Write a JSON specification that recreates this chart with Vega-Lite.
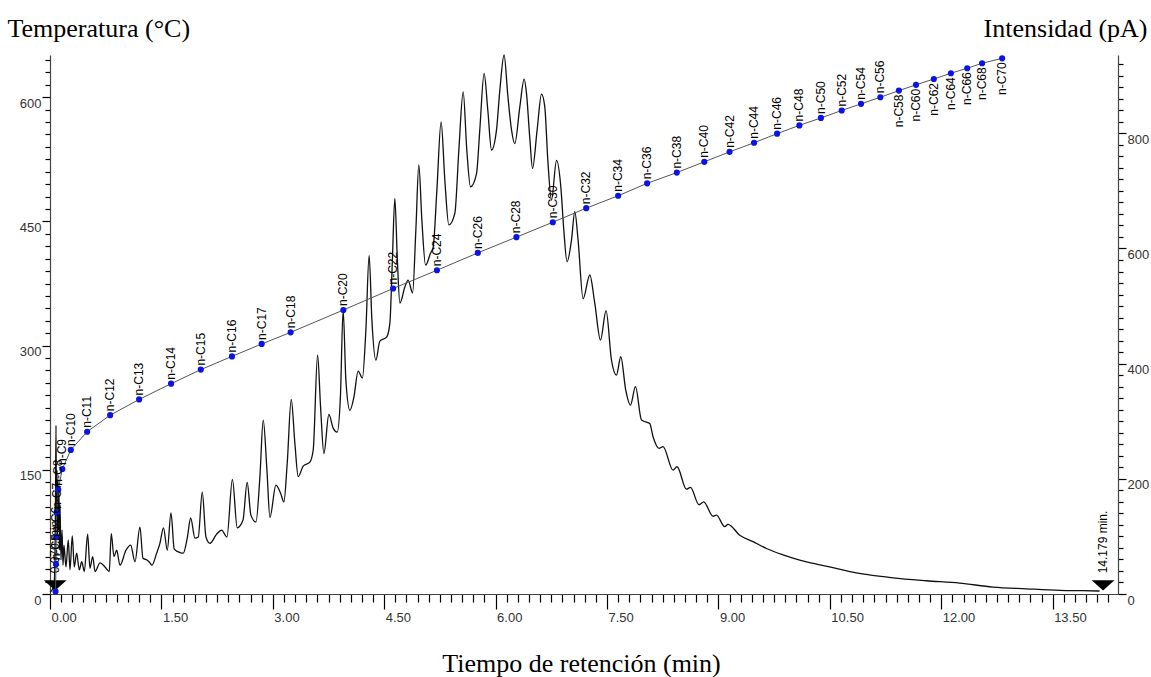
{
  "$schema": "https://vega.github.io/schema/vega-lite/v6.json",
  "width": 1068,
  "height": 539,
  "autosize": "none",
  "padding": {"left": 50, "top": 55, "right": 33, "bottom": 83},
  "background": "white",
  "config": {
    "view": {"stroke": null},
    "axis": {
      "grid": false,
      "labelFont": "Liberation Sans",
      "labelFontSize": 13,
      "labelColor": "#333333",
      "domainColor": "#444444",
      "domainWidth": 1.2,
      "tickColor": "#000000",
      "tickWidth": 1.2,
      "tickRound": true,
      "titleFont": "Liberation Serif",
      "titleFontSize": 26,
      "titleFontWeight": "normal",
      "titleColor": "#000000"
    }
  },
  "datasets": {
    "chrom": [
      {"t": 0, "pA": 3}, {"t": 0.027, "pA": 6.9}, {"t": 0.054, "pA": 15.6}, {"t": 0.067, "pA": 59}, {"t": 0.074, "pA": 163}, {"t": 0.081, "pA": 293}, {"t": 0.087, "pA": 128}, {"t": 0.094, "pA": 215}, {"t": 0.101, "pA": 94}, {"t": 0.108, "pA": 198}, {"t": 0.114, "pA": 111}, {"t": 0.121, "pA": 181}, {"t": 0.128, "pA": 76}, {"t": 0.135, "pA": 155}, {"t": 0.148, "pA": 59}, {"t": 0.162, "pA": 111}, {"t": 0.175, "pA": 50}, {"t": 0.188, "pA": 85}, {"t": 0.215, "pA": 47}, {"t": 0.246, "pA": 94}, {"t": 0.269, "pA": 42}, {"t": 0.3, "pA": 101}, {"t": 0.327, "pA": 47}, {"t": 0.359, "pA": 71}, {"t": 0.394, "pA": 42}, {"t": 0.427, "pA": 56}, {"t": 0.462, "pA": 39}, {"t": 0.507, "pA": 104}, {"t": 0.538, "pA": 45}, {"t": 0.575, "pA": 65}, {"t": 0.606, "pA": 39}, {"t": 0.673, "pA": 54}, {"t": 0.74, "pA": 47}, {"t": 0.798, "pA": 39}, {"t": 0.825, "pA": 105}, {"t": 0.861, "pA": 65}, {"t": 0.898, "pA": 76}, {"t": 0.942, "pA": 50}, {"t": 1.023, "pA": 76}, {"t": 1.086, "pA": 85}, {"t": 1.144, "pA": 56}, {"t": 1.211, "pA": 116}, {"t": 1.252, "pA": 62}, {"t": 1.306, "pA": 59}, {"t": 1.346, "pA": 54}, {"t": 1.373, "pA": 50}, {"t": 1.436, "pA": 71}, {"t": 1.48, "pA": 88}, {"t": 1.528, "pA": 115}, {"t": 1.579, "pA": 76}, {"t": 1.629, "pA": 141}, {"t": 1.673, "pA": 78}, {"t": 1.75, "pA": 72}, {"t": 1.794, "pA": 71}, {"t": 1.848, "pA": 97}, {"t": 1.894, "pA": 132}, {"t": 1.952, "pA": 97}, {"t": 1.996, "pA": 99}, {"t": 2.05, "pA": 177}, {"t": 2.1, "pA": 99}, {"t": 2.153, "pA": 88}, {"t": 2.244, "pA": 104}, {"t": 2.311, "pA": 111}, {"t": 2.382, "pA": 99}, {"t": 2.456, "pA": 199}, {"t": 2.521, "pA": 115}, {"t": 2.598, "pA": 128}, {"t": 2.655, "pA": 194}, {"t": 2.705, "pA": 137}, {"t": 2.773, "pA": 125}, {"t": 2.826, "pA": 203}, {"t": 2.871, "pA": 302}, {"t": 2.921, "pA": 215}, {"t": 2.961, "pA": 133}, {"t": 3.042, "pA": 189}, {"t": 3.105, "pA": 175}, {"t": 3.149, "pA": 160}, {"t": 3.194, "pA": 227}, {"t": 3.248, "pA": 338}, {"t": 3.297, "pA": 262}, {"t": 3.342, "pA": 204}, {"t": 3.409, "pA": 222}, {"t": 3.499, "pA": 229}, {"t": 3.544, "pA": 250}, {"t": 3.603, "pA": 415}, {"t": 3.643, "pA": 325}, {"t": 3.688, "pA": 244}, {"t": 3.755, "pA": 312}, {"t": 3.813, "pA": 288}, {"t": 3.867, "pA": 281}, {"t": 3.91, "pA": 342}, {"t": 3.947, "pA": 493}, {"t": 3.984, "pA": 371}, {"t": 4.038, "pA": 319}, {"t": 4.092, "pA": 342}, {"t": 4.149, "pA": 387}, {"t": 4.206, "pA": 375}, {"t": 4.253, "pA": 458}, {"t": 4.297, "pA": 588}, {"t": 4.334, "pA": 476}, {"t": 4.388, "pA": 406}, {"t": 4.441, "pA": 439}, {"t": 4.532, "pA": 446}, {"t": 4.576, "pA": 470}, {"t": 4.61, "pA": 580}, {"t": 4.643, "pA": 687}, {"t": 4.677, "pA": 580}, {"t": 4.711, "pA": 505}, {"t": 4.778, "pA": 533}, {"t": 4.822, "pA": 545}, {"t": 4.882, "pA": 523}, {"t": 4.926, "pA": 632}, {"t": 4.966, "pA": 745}, {"t": 5.007, "pA": 649}, {"t": 5.057, "pA": 571}, {"t": 5.124, "pA": 592}, {"t": 5.159, "pA": 602}, {"t": 5.209, "pA": 701}, {"t": 5.266, "pA": 820}, {"t": 5.316, "pA": 719}, {"t": 5.37, "pA": 641}, {"t": 5.451, "pA": 661}, {"t": 5.505, "pA": 771}, {"t": 5.563, "pA": 872}, {"t": 5.612, "pA": 771}, {"t": 5.662, "pA": 707}, {"t": 5.743, "pA": 730}, {"t": 5.787, "pA": 806}, {"t": 5.845, "pA": 904}, {"t": 5.895, "pA": 840}, {"t": 5.945, "pA": 771}, {"t": 6.012, "pA": 806}, {"t": 6.057, "pA": 875}, {"t": 6.114, "pA": 936}, {"t": 6.164, "pA": 866}, {"t": 6.214, "pA": 806}, {"t": 6.258, "pA": 782}, {"t": 6.326, "pA": 846}, {"t": 6.384, "pA": 894}, {"t": 6.416, "pA": 869}, {"t": 6.46, "pA": 792}, {"t": 6.497, "pA": 739}, {"t": 6.559, "pA": 806}, {"t": 6.618, "pA": 868}, {"t": 6.662, "pA": 846}, {"t": 6.703, "pA": 753}, {"t": 6.752, "pA": 684}, {"t": 6.82, "pA": 753}, {"t": 6.878, "pA": 707}, {"t": 6.918, "pA": 632}, {"t": 6.962, "pA": 577}, {"t": 7.022, "pA": 615}, {"t": 7.066, "pA": 664}, {"t": 7.11, "pA": 615}, {"t": 7.178, "pA": 513}, {"t": 7.268, "pA": 554}, {"t": 7.335, "pA": 505}, {"t": 7.412, "pA": 441}, {"t": 7.487, "pA": 492}, {"t": 7.56, "pA": 406}, {"t": 7.627, "pA": 380}, {"t": 7.685, "pA": 412}, {"t": 7.752, "pA": 354}, {"t": 7.816, "pA": 328}, {"t": 7.883, "pA": 360}, {"t": 7.964, "pA": 302}, {"t": 8.075, "pA": 296}, {"t": 8.12, "pA": 273}, {"t": 8.2, "pA": 253}, {"t": 8.254, "pA": 256}, {"t": 8.389, "pA": 215}, {"t": 8.443, "pA": 221}, {"t": 8.569, "pA": 182}, {"t": 8.623, "pA": 185}, {"t": 8.739, "pA": 155}, {"t": 8.802, "pA": 160}, {"t": 8.927, "pA": 135}, {"t": 8.973, "pA": 137}, {"t": 9.085, "pA": 117}, {"t": 9.129, "pA": 121}, {"t": 9.287, "pA": 102}, {"t": 9.466, "pA": 91}, {"t": 9.646, "pA": 79}, {"t": 9.869, "pA": 68}, {"t": 10.094, "pA": 59}, {"t": 10.319, "pA": 52}, {"t": 10.542, "pA": 46}, {"t": 10.767, "pA": 39}, {"t": 10.992, "pA": 34}, {"t": 11.35, "pA": 28}, {"t": 11.799, "pA": 23}, {"t": 12.248, "pA": 19}, {"t": 12.696, "pA": 12}, {"t": 13.145, "pA": 9}, {"t": 13.594, "pA": 6.4}, {"t": 13.907, "pA": 5.7}, {"t": 14.132, "pA": 5.2}
    ],
    "temp": [
      {"t": 0.075, "T": 3, "label": ""}, {"t": 0.08, "T": 36, "label": "n-C5"}, {"t": 0.085, "T": 69, "label": "n-C6"}, {"t": 0.09, "T": 98, "label": "n-C7"}, {"t": 0.11, "T": 126, "label": "n-C8"}, {"t": 0.166, "T": 151, "label": "n-C9"}, {"t": 0.28, "T": 174, "label": "n-C10"}, {"t": 0.5, "T": 196, "label": "n-C11"}, {"t": 0.81, "T": 216, "label": "n-C12"}, {"t": 1.2, "T": 235, "label": "n-C13"}, {"t": 1.63, "T": 254, "label": "n-C14"}, {"t": 2.03, "T": 271, "label": "n-C15"}, {"t": 2.45, "T": 287, "label": "n-C16"}, {"t": 2.85, "T": 302, "label": "n-C17"}, {"t": 3.24, "T": 316, "label": "n-C18"}, {"t": 3.95, "T": 343, "label": "n-C20"}, {"t": 4.62, "T": 369, "label": "n-C22"}, {"t": 5.21, "T": 391, "label": "n-C24"}, {"t": 5.76, "T": 412, "label": "n-C26"}, {"t": 6.28, "T": 431, "label": "n-C28"}, {"t": 6.77, "T": 449, "label": "n-C30"}, {"t": 7.22, "T": 466, "label": "n-C32"}, {"t": 7.65, "T": 481, "label": "n-C34"}, {"t": 8.04, "T": 496, "label": "n-C36"}, {"t": 8.44, "T": 509, "label": "n-C38"}, {"t": 8.81, "T": 522, "label": "n-C40"}, {"t": 9.15, "T": 534, "label": "n-C42"}, {"t": 9.48, "T": 545, "label": "n-C44"}, {"t": 9.79, "T": 556, "label": "n-C46"}, {"t": 10.09, "T": 566, "label": "n-C48"}, {"t": 10.38, "T": 575, "label": "n-C50"}, {"t": 10.66, "T": 584, "label": "n-C52"}, {"t": 10.92, "T": 592, "label": "n-C54"}, {"t": 11.18, "T": 600, "label": "n-C56"}, {"t": 11.43, "T": 608, "label": "n-C58"}, {"t": 11.66, "T": 615, "label": "n-C60"}, {"t": 11.9, "T": 622, "label": "n-C62"}, {"t": 12.13, "T": 629, "label": "n-C64"}, {"t": 12.35, "T": 635, "label": "n-C66"}, {"t": 12.55, "T": 641, "label": "n-C68"}, {"t": 12.82, "T": 647, "label": "n-C70"}
    ],
    "markers": [
      {"t": 0.07, "pA": 15, "label": "0.070 min."}, {"t": 14.179, "pA": 15, "label": "14.179 min."}
    ]
  },
  "encoding": {
    "x": {
      "field": "t", "type": "quantitative",
      "scale": {"domain": [0, 14.38], "nice": false, "zero": false},
      "axis": {
        "orient": "bottom",
        "title": "Tiempo de retención (min)",
        "titleX": 531, "titleY": 69, "titleBaseline": "middle", "titleAnchor": null,
        "values": [0, 0.15, 0.3, 0.45, 0.6, 0.75, 0.9, 1.05, 1.2, 1.35, 1.5, 1.65, 1.8, 1.95, 2.1, 2.25, 2.4, 2.55, 2.7, 2.85, 3, 3.15, 3.3, 3.45, 3.6, 3.75, 3.9, 4.05, 4.2, 4.35, 4.5, 4.65, 4.8, 4.95, 5.1, 5.25, 5.4, 5.55, 5.7, 5.85, 6, 6.15, 6.3, 6.45, 6.6, 6.75, 6.9, 7.05, 7.2, 7.35, 7.5, 7.65, 7.8, 7.95, 8.1, 8.25, 8.4, 8.55, 8.7, 8.85, 9, 9.15, 9.3, 9.45, 9.6, 9.75, 9.9, 10.05, 10.2, 10.35, 10.5, 10.65, 10.8, 10.95, 11.1, 11.25, 11.4, 11.55, 11.7, 11.85, 12, 12.15, 12.3, 12.45, 12.6, 12.75, 12.9, 13.05, 13.2, 13.35, 13.5, 13.65, 13.8, 13.95, 14.1, 14.25],
        "labelExpr": "abs(datum.value/1.5 - round(datum.value/1.5)) < 0.001 ? format(datum.value, '.2f') : ''",
        "labelAlign": "left", "labelBaseline": "top", "labelPadding": 2, "labelOffset": 1,
        "labelFlush": false, "labelOverlap": false,
        "tickSize": {"condition": {"test": "abs(datum.value/1.5 - round(datum.value/1.5)) < 0.001", "value": 15}, "value": 8}
      }
    }
  },
  "layer": [
    {
      "encoding": {
        "y": {
          "field": "pA", "type": "quantitative",
          "scale": {"domain": [0, 936], "nice": false},
          "axis": {
            "orient": "right",
            "title": "Intensidad (pA)",
            "titleAngle": 0, "titleAlign": "right", "titleBaseline": "middle", "titleX": 29, "titleY": -27, "titleAnchor": null,
            "values": [0, 20, 40, 60, 80, 100, 120, 140, 160, 180, 200, 220, 240, 260, 280, 300, 320, 340, 360, 380, 400, 420, 440, 460, 480, 500, 520, 540, 560, 580, 600, 620, 640, 660, 680, 700, 720, 740, 760, 780, 800, 820, 840, 860, 880, 900, 920],
            "labelExpr": "datum.value % 200 === 0 ? format(datum.value, 'd') : ''",
            "labelBaseline": "top", "labelPadding": 1, "labelFlush": false, "labelOverlap": false,
            "tickSize": {"condition": {"test": "datum.value % 200 === 0", "value": 8}, "value": 5}
          }
        }
      },
      "layer": [
        {"data": {"name": "chrom"}, "mark": {"type": "line", "color": "#111111", "strokeWidth": 1.3, "interpolate": "monotone"}},
        {"data": {"name": "markers"}, "mark": {"type": "point", "shape": "M -1 -0.45 L 1 -0.45 L 0 0.45 Z", "size": 520, "filled": true, "color": "#000000", "opacity": 1}},
        {"data": {"name": "markers"}, "mark": {"type": "text", "angle": -90, "align": "left", "baseline": "middle", "dx": 12, "font": "Liberation Sans", "fontSize": 12, "color": "#000000"}, "encoding": {"text": {"field": "label"}}}
      ]
    },
    {
      "data": {"name": "temp"},
      "encoding": {
        "y": {
          "field": "T", "type": "quantitative",
          "scale": {"domain": [0, 651], "nice": false},
          "axis": {
            "orient": "left",
            "title": "Temperatura (°C)",
            "titleAngle": 0, "titleAlign": "left", "titleBaseline": "middle", "titleX": -43, "titleY": -27, "titleAnchor": null,
            "values": [0, 15, 30, 45, 60, 75, 90, 105, 120, 135, 150, 165, 180, 195, 210, 225, 240, 255, 270, 285, 300, 315, 330, 345, 360, 375, 390, 405, 420, 435, 450, 465, 480, 495, 510, 525, 540, 555, 570, 585, 600, 615, 630, 645],
            "labelExpr": "datum.value % 150 === 0 ? format(datum.value, 'd') : ''",
            "labelBaseline": "top", "labelPadding": 1, "labelFlush": false, "labelOverlap": false,
            "tickSize": {"condition": {"test": "datum.value % 150 === 0", "value": 8}, "value": 5}
          }
        }
      },
      "layer": [
        {"mark": {"type": "line", "color": "#555555", "strokeWidth": 1}},
        {"mark": {"type": "point", "filled": true, "color": "#0a14e6", "size": 38, "opacity": 1}},
        {"transform": [{"filter": "datum.t < 11.3"}], "mark": {"type": "text", "angle": -90, "align": "left", "baseline": "middle", "dx": 4, "font": "Liberation Sans", "fontSize": 12, "color": "#000000"}, "encoding": {"text": {"field": "label"}}},
        {"transform": [{"filter": "datum.t >= 11.3"}], "mark": {"type": "text", "angle": -90, "align": "right", "baseline": "middle", "dx": -4, "font": "Liberation Sans", "fontSize": 12, "color": "#000000"}, "encoding": {"text": {"field": "label"}}}
      ]
    }
  ],
  "resolve": {"scale": {"y": "independent"}, "axis": {"y": "independent"}}
}
